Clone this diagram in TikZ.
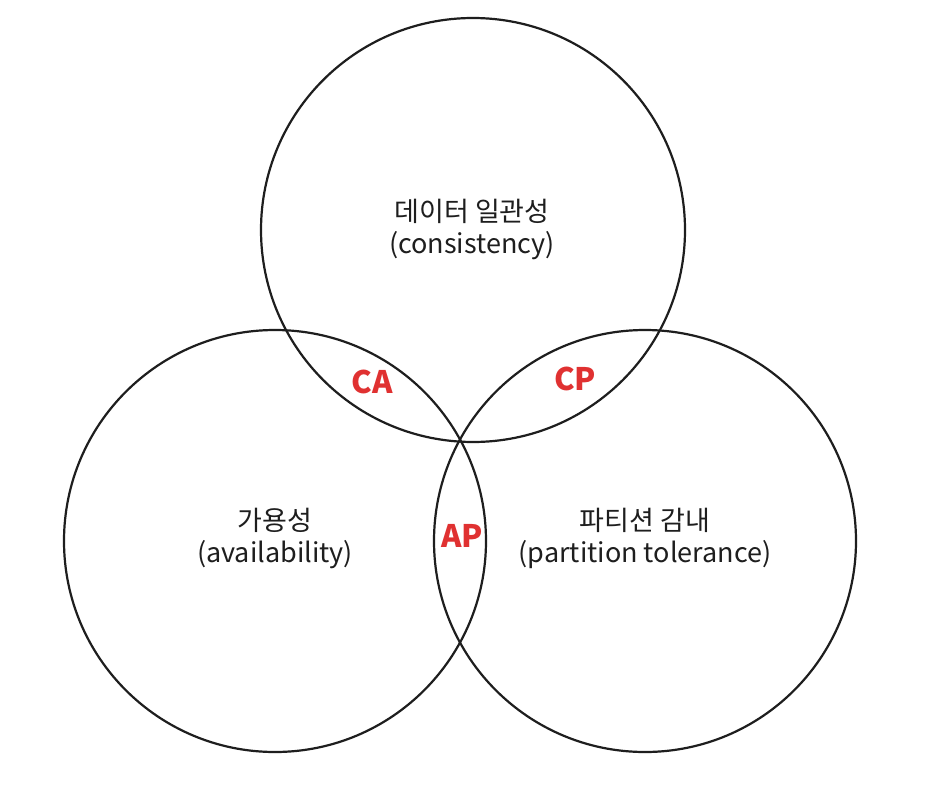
\documentclass[tikz,border=0pt]{standalone}
\usepackage{fontspec}
\setmainfont{Noto Sans CJK KR}
\newfontfamily\kr{Noto Sans CJK KR}
\definecolor{exred}{HTML}{E03131}
\definecolor{exink}{HTML}{1E1E1E}
\begin{document}
\begin{tikzpicture}[x=1pt,y=-1pt,
  ring/.style={draw=exink,line width=2.2pt},
  lbl/.style={font=\kr\fontsize{27}{32}\selectfont,text=exink,align=center},
  zone/.style={font=\kr\fontsize{31}{34}\selectfont\bfseries,text=exred}]
\useasboundingbox (0,0) rectangle (945,790);
\fill[white] (0,0) rectangle (945,790);
\coordinate (c1) at (473,230);
\coordinate (c2) at (275,541);
\coordinate (c3) at (645,541);
\draw[ring] (c1) circle[radius=212];
\draw[ring] (c2) circle[radius=211];
\draw[ring] (c3) circle[radius=211];
\node[lbl] (t1) at (472,229) {데이터 일관성\\(consistency)};
\node[lbl] (t2) at (275,538) {가용성\\(availability)};
\node[lbl] (t3) at (645,538) {파티션 감내\\(partition tolerance)};
\node[zone] (ca) at (372,382) {CA};
\node[zone] (cp) at (575,379) {CP};
\node[zone] (ap) at (462,536) {AP};
\end{tikzpicture}
\end{document}
